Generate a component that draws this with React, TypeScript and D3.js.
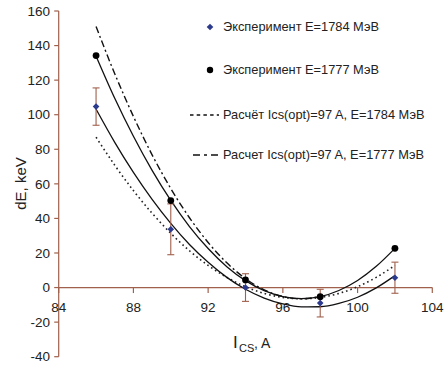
import React from "react";
import * as d3 from "d3";

// Measured points
const measX = [86, 90, 94, 98, 102];
const exp1784 = [104.7, 33.7, 0, -9, 5.7];
const err1784 = [10.8, 14.7, 8, 8, 9];
const exp1777 = [134.2, 50.3, 4.4, -5.3, 22.7];

// Curves
const curveX = [86, 87, 88, 89, 90, 91, 92, 93, 94, 95, 96, 97, 98, 99, 100, 101, 102];
const fit1777 = [133.9, 109.5, 87.5, 67.8, 50.4, 35.3, 22.6, 12.1, 4.0, -1.8, -5.2, -6.4, -5.2, -1.7, 4.1, 12.3, 22.7];
const fit1784 = [103.2, 84.0, 66.6, 51.0, 37.1, 24.9, 14.6, 5.9, -1.0, -6.1, -9.5, -11.2, -11.1, -9.2, -5.6, -0.2, 6.9];
const calc1784 = [87.0, 70.8, 56.1, 43.0, 31.4, 21.3, 12.8, 5.9, 0.5, -3.4, -5.7, -6.5, -5.7, -3.4, 0.5, 5.9, 12.8];
const calc1777X = [86, 87, 88, 89, 90, 91, 92, 93, 94, 95, 96, 97, 98];
const calc1777 = [151.0, 123.7, 99.0, 76.8, 57.3, 40.4, 26.1, 14.3, 5.2, -1.3, -5.2, -6.5, -5.2];

const xTicks = [84, 88, 92, 96, 100, 104];
const yTicks = [-40, -20, 0, 20, 40, 60, 80, 100, 120, 140, 160];

const legendLabels = [
  "Эксперимент E=1784 МэВ",
  "Эксперимент E=1777 МэВ",
  "Расчёт Ics(opt)=97 A, E=1784 МэВ",
  "Расчет Ics(opt)=97 A, E=1777 МэВ",
];

const AXIS = "#a0604c";
const BLUE = "#2b3a8c";
const FONT = "'Liberation Sans', Arial, sans-serif";

export default function App() {
  const x = d3.scaleLinear().domain([84, 104]).range([58.7, 432.3]);
  const y = d3.scaleLinear().domain([-40, 160]).range([356.7, 11]);
  const line = (xs: number[], ys: number[]) =>
    d3
      .line<number>()
      .x((_, i) => x(xs[i]))
      .y((d) => y(d))
      .curve(d3.curveMonotoneX)(ys) || "";

  const x0 = x(84);
  const y0 = y(0);
  const diamond = "M0,-3.3L3.3,0L0,3.3L-3.3,0Z";

  const legY = [27, 70, 115, 155];

  return (
    <div style={{ position: "absolute", left: 0, top: 0 }}>
      <svg width={444} height={369} style={{ display: "block", background: "#fff" }} fontFamily={FONT}>
        {/* y axis */}
        <line x1={x0} x2={x0} y1={y(160)} y2={y(-40)} stroke={AXIS} strokeWidth={1.2} />
        {yTicks.map((t) => (
          <g key={"y" + t}>
            <line x1={x0 - 4.5} x2={x0} y1={y(t)} y2={y(t)} stroke={AXIS} strokeWidth={1.2} />
            <text x={50} y={y(t) + 4.7} textAnchor="end" fontSize={13.5} fill="#222">
              {t}
            </text>
          </g>
        ))}
        {/* x axis at zero */}
        <line x1={x0} x2={x(104)} y1={y0} y2={y0} stroke={AXIS} strokeWidth={1.2} />
        {xTicks.map((t) => (
          <g key={"x" + t}>
            <line x1={x(t)} x2={x(t)} y1={y0} y2={y0 + 5.5} stroke={AXIS} strokeWidth={1.2} />
            <text x={x(t)} y={311.8} textAnchor="middle" fontSize={13.5} fill="#222">
              {t}
            </text>
          </g>
        ))}

        {/* axis titles */}
        <text
          transform={`translate(25.5,183.5) rotate(-90)`}
          textAnchor="middle"
          fontSize={15}
          fill="#222"
        >
          dE, keV
        </text>
        <text x={233} y={348.3} fontSize={17} fill="#222">
          I
        </text>
        <text x={239} y={351.7} fontSize={11} fill="#222">
          CS
        </text>
        <text x={254} y={348.3} fontSize={14} fill="#222">
          , A
        </text>

        {/* curves */}
        <path d={line(curveX, calc1784)} fill="none" stroke="#222" strokeWidth={1.6} strokeDasharray="1.6,3" />
        <path d={line(calc1777X, calc1777)} fill="none" stroke="#111" strokeWidth={1.4} strokeDasharray="7,3,2,3" />
        <path d={line(curveX, fit1777)} fill="none" stroke="#111" strokeWidth={1.3} />
        <path d={line(curveX, fit1784)} fill="none" stroke="#111" strokeWidth={1.3} />

        {/* error bars */}
        {measX.map((m, i) => {
          const top = y(exp1784[i] + err1784[i]);
          const bot = y(exp1784[i] - err1784[i]);
          const cx = x(m);
          return (
            <g key={"e" + i} stroke={AXIS} strokeWidth={1.1}>
              <line x1={cx} x2={cx} y1={top} y2={bot} />
              <line x1={cx - 3.5} x2={cx + 3.5} y1={top} y2={top} />
              <line x1={cx - 3.5} x2={cx + 3.5} y1={bot} y2={bot} />
            </g>
          );
        })}

        {/* markers */}
        {measX.map((m, i) => (
          <circle key={"c" + i} cx={x(m)} cy={y(exp1777[i])} r={3.4} fill="#000" />
        ))}
        {measX.map((m, i) => (
          <path key={"d" + i} d={diamond} transform={`translate(${x(m)},${y(exp1784[i])})`} fill={BLUE} />
        ))}

        {/* legend */}
        <path d={diamond} transform={`translate(210,${legY[0]})`} fill={BLUE} />
        <circle cx={210} cy={legY[1]} r={3.2} fill="#000" />
        <line x1={190} x2={219} y1={legY[2]} y2={legY[2]} stroke="#111" strokeWidth={1.6} strokeDasharray="3.5,3.2" />
        <line x1={193} x2={221} y1={legY[3]} y2={legY[3]} stroke="#111" strokeWidth={1.6} strokeDasharray="7,4,3,4" />
        {legendLabels.map((l, i) => (
          <text key={"l" + i} x={223} y={legY[i] + 4.3} fontSize={12.8} fill="#222">
            {l}
          </text>
        ))}
      </svg>
    </div>
  );
}
